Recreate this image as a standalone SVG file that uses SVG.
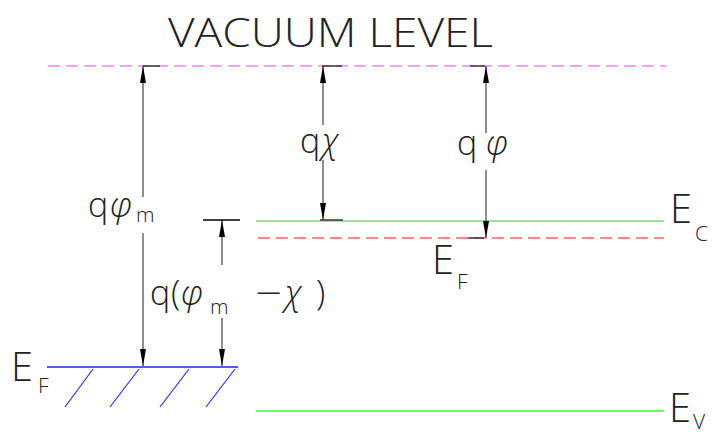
<svg xmlns="http://www.w3.org/2000/svg" width="713" height="438" viewBox="0 0 713 438">
<defs>
<style>
text{font-family:"Open Sans","Liberation Sans",sans-serif;font-weight:300;fill:#222}
.big{font-size:41px}
.sub{font-size:21px}
.lbl{font-size:34px}
.it{font-style:italic}
.dim{stroke:#444;stroke-width:1.2;fill:none}
.tick{stroke:#333;stroke-width:1.5}
.hatch{stroke:#2a2aff;stroke-width:1.2}
</style>
<marker id="ah" viewBox="-18 -4 19 8" refX="0" refY="0" markerWidth="19" markerHeight="8" markerUnits="userSpaceOnUse" orient="auto-start-reverse">
<path d="M0,0 L-17,-3 L-17,3 Z" fill="#000"/>
</marker>
</defs>
<rect width="713" height="438" fill="#fff"/>

<g id="vacuum-level">
<line x1="48" y1="66" x2="666" y2="66" stroke="#ff80ff" stroke-width="1.5" stroke-dasharray="12,6"/>
<text class="big" x="168" y="47" textLength="325" lengthAdjust="spacingAndGlyphs">VACUUM   LEVEL</text>
</g>

<g id="ec">
<line x1="256" y1="221" x2="664" y2="221" stroke="#33cc33" stroke-width="1"/>
<text class="big" x="670" y="223" textLength="22" lengthAdjust="spacingAndGlyphs">E</text>
<text class="sub" x="695" y="241">C</text>
</g>

<g id="ef-semiconductor">
<line x1="258" y1="238" x2="664" y2="238" stroke="#ff6060" stroke-width="1.5" stroke-dasharray="12,6"/>
<text class="big" x="432" y="274" textLength="22" lengthAdjust="spacingAndGlyphs">E</text>
<text class="sub" x="457" y="289">F</text>
</g>

<g id="ev">
<line x1="256" y1="411" x2="664" y2="411" stroke="#44ee44" stroke-width="1.5"/>
<text class="big" x="669" y="422" textLength="22" lengthAdjust="spacingAndGlyphs">E</text>
<text class="sub" x="693" y="429">V</text>
</g>

<g id="ef-metal">
<line x1="47" y1="367" x2="238" y2="367" stroke="#2020ee" stroke-width="1.5"/>
<line class="hatch" x1="93" y1="369" x2="65" y2="407"/>
<line class="hatch" x1="139" y1="369" x2="110" y2="407"/>
<line class="hatch" x1="189" y1="369" x2="160" y2="407"/>
<line class="hatch" x1="235" y1="369" x2="206" y2="407"/>
<text class="big" x="11" y="381" textLength="22" lengthAdjust="spacingAndGlyphs">E</text>
<text class="sub" x="38" y="393">F</text>
</g>

<g id="connectors">
<line class="dim" x1="143" y1="66" x2="143" y2="197" marker-start="url(#ah)"/>
<line class="dim" x1="143" y1="233" x2="143" y2="366" marker-end="url(#ah)"/>
<line class="tick" x1="143" y1="66" x2="160" y2="66"/>
<line class="dim" x1="323" y1="66" x2="323" y2="125" marker-start="url(#ah)"/>
<line class="dim" x1="323" y1="160" x2="323" y2="220" marker-end="url(#ah)"/>
<line class="tick" x1="322" y1="66" x2="342" y2="66"/>
<line class="tick" x1="320" y1="220" x2="343" y2="220"/>
<line class="dim" x1="486" y1="66" x2="486" y2="133" marker-start="url(#ah)"/>
<line class="dim" x1="486" y1="170" x2="486" y2="238" marker-end="url(#ah)"/>
<line class="tick" x1="470" y1="66" x2="485" y2="66"/>
<line class="tick" x1="468" y1="238" x2="484" y2="238"/>
<line class="dim" x1="222" y1="220" x2="222" y2="265" marker-start="url(#ah)"/>
<line class="dim" x1="222" y1="318" x2="222" y2="366" marker-end="url(#ah)"/>
<line x1="203" y1="220" x2="240" y2="220" stroke="#000" stroke-width="1.5"/>
</g>

<g id="label-qphim">
<text class="lbl" x="88" y="217">q</text>
<text class="lbl it" x="110" y="217">φ</text>
<text class="sub" x="136" y="222">m</text>
</g>
<g id="label-qchi">
<text class="lbl" x="300" y="153">q</text>
<text class="lbl it" x="322" y="153">χ</text>
</g>
<g id="label-qphi">
<text class="lbl" x="457" y="155">q</text>
<text class="lbl it" x="486" y="155">φ</text>
</g>
<g id="label-qdiff">
<text class="lbl" x="150" y="305" font-size="38">q</text>
<text class="lbl" x="171" y="305" font-size="44">(</text>
<text class="lbl it" x="181" y="305" font-size="42">φ</text>
<text class="sub" x="210" y="314">m</text>
<text class="lbl" x="255" y="305" font-size="38" textLength="27" lengthAdjust="spacingAndGlyphs">−</text>
<text class="lbl it" x="285" y="305" font-size="40">χ</text>
<text class="lbl" x="316" y="305" font-size="44">)</text>
</g>
</svg>
